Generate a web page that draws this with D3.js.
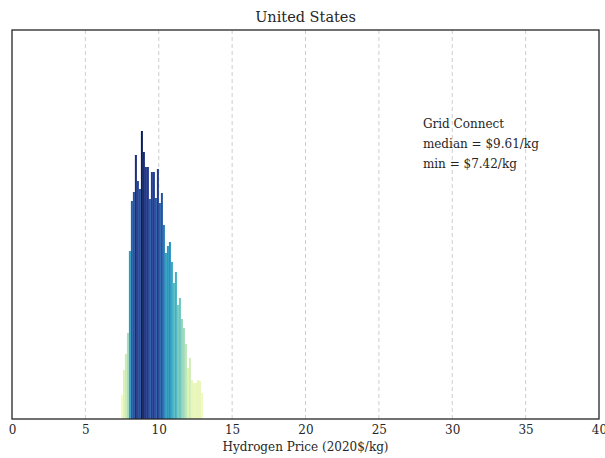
<!DOCTYPE html>
<html>
<head>
<meta charset="utf-8">
<script src="https://cdn.jsdelivr.net/npm/d3@7"></script>
<style>
  body { margin: 0; background: #fff; }
  text { font-family: "DejaVu Serif", serif; fill: #262626; }
</style>
</head>
<body>
<div class="chart"></div>
<script>
// histogram counts (left to right)
const counts = [24, 49, 65, 86, 168, 218, 227, 264, 238, 230, 288, 267, 252, 252, 220, 247, 247, 221, 250, 216,
                226, 194, 166, 173, 177, 157, 136, 147, 114, 121, 100, 91, 75, 51, 61, 39, 36, 36, 39, 38, 26];
const minPrice = 7.42;
const maxPrice = 13.01;
const medianPrice = 9.61;
const xTicks = [0, 5, 10, 15, 20, 25, 30, 35, 40];
const gridTicks = [5, 10, 15, 20, 25, 30, 35];
const labelLines = ["Grid Connect", "median = $" + medianPrice.toFixed(2) + "/kg", "min = $" + minPrice.toFixed(2) + "/kg"];

const w = 605;
const h = 458;
const margin = {top: 30, right: 6, bottom: 39, left: 12};

const binW = (maxPrice - minPrice) / counts.length;
const bins = counts.map((c, i) => ({x0: minPrice + i * binW, x1: minPrice + (i + 1) * binW, n: c}));

let svg = d3.select(".chart").append("svg")
    .attr("width", w)
    .attr("height", h);

let xScale = d3.scaleLinear()
    .domain([0, 40])
    .range([margin.left, w - margin.right]);
let yScale = d3.scaleLinear()
    .domain([0, 389])
    .range([h - margin.bottom, margin.top]);
let color = d3.scaleSequential(d3.interpolateYlGnBu)
    .domain([0, d3.max(counts)]);

// grid
svg.append("g").selectAll("line")
    .data(gridTicks)
    .enter().append("line")
    .attr("x1", d => xScale(d)).attr("x2", d => xScale(d))
    .attr("y1", margin.top).attr("y2", h - margin.bottom)
    .attr("stroke", "#c8c8c8")
    .attr("stroke-width", 0.9)
    .attr("stroke-dasharray", "4,3");

// bars
svg.append("g").selectAll("rect")
    .data(bins)
    .enter().append("rect")
    .attr("x", d => xScale(d.x0))
    .attr("width", d => xScale(d.x1) - xScale(d.x0))
    .attr("y", d => yScale(d.n))
    .attr("height", d => yScale(0) - yScale(d.n))
    .attr("fill", d => color(d.n));

// frame
svg.append("rect")
    .attr("x", margin.left).attr("y", margin.top)
    .attr("width", w - margin.left - margin.right)
    .attr("height", h - margin.top - margin.bottom)
    .attr("fill", "none")
    .attr("stroke", "#262626")
    .attr("stroke-width", 1.3);

// x axis labels
const xAxis = d3.axisBottom(xScale)
    .tickValues(xTicks)
    .tickSize(0)
    .tickPadding(6)
    .tickFormat(d3.format("d"));
let gx = svg.append("g")
    .attr("transform", "translate(0," + (h - margin.bottom) + ")")
    .call(xAxis);
gx.select(".domain").remove();
gx.selectAll("text")
    .attr("font-family", "DejaVu Serif")
    .attr("font-size", 12)
    .attr("fill", "#262626");

svg.append("text")
    .text("Hydrogen Price (2020$/kg)")
    .attr("x", (margin.left + w - margin.right) / 2)
    .attr("y", 451)
    .attr("text-anchor", "middle")
    .attr("font-size", 12);

svg.append("text")
    .text("United States")
    .attr("x", (margin.left + w - margin.right) / 2)
    .attr("y", 22)
    .attr("text-anchor", "middle")
    .attr("font-size", 14.5);

svg.append("g").selectAll("text")
    .data(labelLines)
    .enter().append("text")
    .text(d => d)
    .attr("x", xScale(28))
    .attr("y", (d, i) => 128 + i * 20)
    .attr("font-size", 12);
</script>
</body>
</html>
